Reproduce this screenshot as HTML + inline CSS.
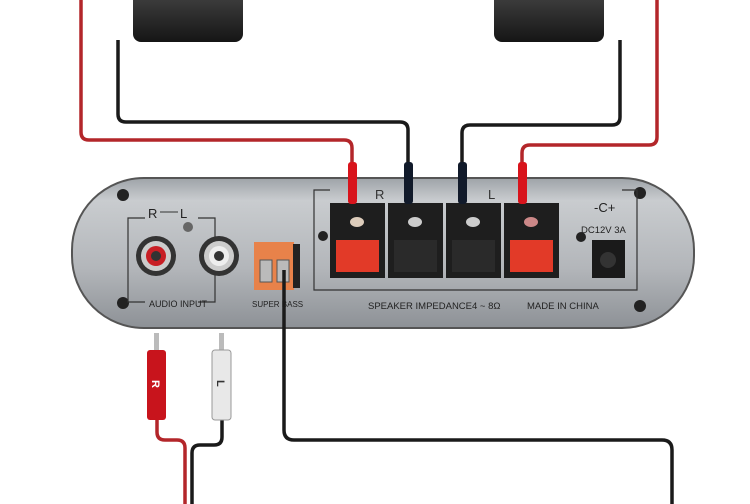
<!DOCTYPE html><html><head><style>body{margin:0;background:#fff}svg{display:block}</style></head><body>
<svg width="750" height="504" viewBox="0 0 750 504" xmlns="http://www.w3.org/2000/svg" font-family="Liberation Sans, sans-serif">
<defs>
<linearGradient id="pg" x1="0" y1="0" x2="0" y2="1"><stop offset="0" stop-color="#9ea3a8"/><stop offset=".15" stop-color="#c9cccf"/><stop offset=".6" stop-color="#b3b6ba"/><stop offset="1" stop-color="#8d9196"/></linearGradient>
<linearGradient id="sp" x1="0" y1="0" x2="0" y2="1"><stop offset="0" stop-color="#444"/><stop offset="1" stop-color="#151515"/></linearGradient>
</defs>
<rect x="133" y="-10" width="110" height="52" rx="8" fill="url(#sp)"/>
<rect x="494" y="-10" width="110" height="52" rx="8" fill="url(#sp)"/>
<g fill="none" stroke-width="3.5" stroke-linejoin="round">
<path d="M81 0 V132 Q81 140 89 140 H344 Q352 140 352 148 V170" stroke="#b3262a"/>
<path d="M118 40 V114 Q118 122 126 122 H400 Q408 122 408 130 V170" stroke="#1a1a1a"/>
<path d="M620 40 V117 Q620 125 612 125 H470 Q462 125 462 133 V170" stroke="#1a1a1a"/>
<path d="M657 0 V137 Q657 145 649 145 H530 Q522 145 522 153 V170" stroke="#b3262a"/>
</g>
<rect x="72" y="178" width="622" height="150" rx="72" fill="url(#pg)" stroke="#555" stroke-width="2"/>
<g fill="#222"><circle cx="123" cy="195" r="6"/><circle cx="640" cy="193" r="6"/><circle cx="123" cy="303" r="6"/><circle cx="640" cy="306" r="6"/><circle cx="323" cy="236" r="5"/><circle cx="581" cy="237" r="5"/></g>
<path d="M145 218 H128 V302 H145 M198 302 H215 V218 H198" fill="none" stroke="#333" stroke-width="1.2"/>
<text x="148" y="218" font-size="13" fill="#222">R</text><text x="180" y="218" font-size="13" fill="#222">L</text>
<line x1="160" y1="212" x2="178" y2="212" stroke="#333"/>
<circle cx="188" cy="227" r="5" fill="#666"/>
<circle cx="156" cy="256" r="20" fill="#333"/><circle cx="156" cy="256" r="15" fill="#ccc"/><circle cx="156" cy="256" r="10" fill="#c81e24"/><circle cx="156" cy="256" r="5" fill="#333"/>
<circle cx="219" cy="256" r="20" fill="#333"/><circle cx="219" cy="256" r="15" fill="#ccc"/><circle cx="219" cy="256" r="10" fill="#eee"/><circle cx="219" cy="256" r="5" fill="#333"/>
<text x="149" y="307" font-size="9" fill="#222">AUDIO INPUT</text>
<rect x="254" y="242" width="40" height="48" fill="#e8824a"/><rect x="293" y="244" width="7" height="44" fill="#222"/>
<rect x="260" y="260" width="12" height="22" fill="#bbb" stroke="#555"/><rect x="277" y="260" width="12" height="22" fill="#bbb" stroke="#555"/>
<text x="252" y="307" font-size="8" fill="#222">SUPER BASS</text>
<path d="M330 190 H314 V290 H637 V190 H622" fill="none" stroke="#333" stroke-width="1.2"/>
<text x="375" y="199" font-size="13" fill="#333">R</text><text x="488" y="199" font-size="13" fill="#333">L</text>
<rect x="330" y="203" width="55" height="75" fill="#1e1e1e"/><rect x="388" y="203" width="55" height="75" fill="#1e1e1e"/><rect x="446" y="203" width="55" height="75" fill="#1e1e1e"/><rect x="504" y="203" width="55" height="75" fill="#1e1e1e"/>
<ellipse cx="357" cy="222" rx="7" ry="5" fill="#dcb"/><ellipse cx="415" cy="222" rx="7" ry="5" fill="#ccc"/><ellipse cx="473" cy="222" rx="7" ry="5" fill="#ccc"/><ellipse cx="531" cy="222" rx="7" ry="5" fill="#c88"/>
<rect x="336" y="240" width="43" height="32" fill="#e23a28"/><rect x="394" y="240" width="43" height="32" fill="#2a2a2a"/><rect x="452" y="240" width="43" height="32" fill="#2a2a2a"/><rect x="510" y="240" width="43" height="32" fill="#e23a28"/>
<rect x="348" y="162" width="9" height="42" rx="3" fill="#d8141c"/><rect x="404" y="162" width="9" height="42" rx="3" fill="#111a2a"/><rect x="458" y="162" width="9" height="42" rx="3" fill="#111a2a"/><rect x="518" y="162" width="9" height="42" rx="3" fill="#d8141c"/>
<text x="368" y="309" font-size="9.5" fill="#222">SPEAKER IMPEDANCE4 ~ 8Ω</text>
<text x="527" y="309" font-size="9.5" fill="#222">MADE IN CHINA</text>
<text x="594" y="212" font-size="13" fill="#222">-C+</text>
<text x="581" y="233" font-size="9.5" fill="#222">DC12V 3A</text>
<rect x="592" y="240" width="33" height="38" fill="#1a1a1a"/><circle cx="608" cy="260" r="8" fill="#333"/>
<g fill="none" stroke-width="3.5" stroke-linejoin="round">
<path d="M284 270 V430 Q284 440 294 440 H662 Q672 440 672 450 V504" stroke="#1a1a1a"/>
<path d="M157 415 V432 Q157 440 165 440 H177 Q185 440 185 448 V504" stroke="#b3262a"/>
<path d="M222 415 V437 Q222 445 214 445 H200 Q192 445 192 453 V504" stroke="#1a1a1a"/>
</g>
<rect x="154" y="333" width="5" height="20" fill="#bbb"/><rect x="147" y="350" width="19" height="70" rx="3" fill="#c8141c"/>
<text x="152" y="390" font-size="11" fill="#fff" font-weight="bold" transform="rotate(90 157 385)">R</text>
<rect x="219" y="333" width="5" height="20" fill="#bbb"/><rect x="212" y="350" width="19" height="70" rx="3" fill="#e8e8e8" stroke="#999"/>
<text x="217" y="390" font-size="11" fill="#333" font-weight="bold" transform="rotate(90 222 385)">L</text>
</svg>
</body></html>
